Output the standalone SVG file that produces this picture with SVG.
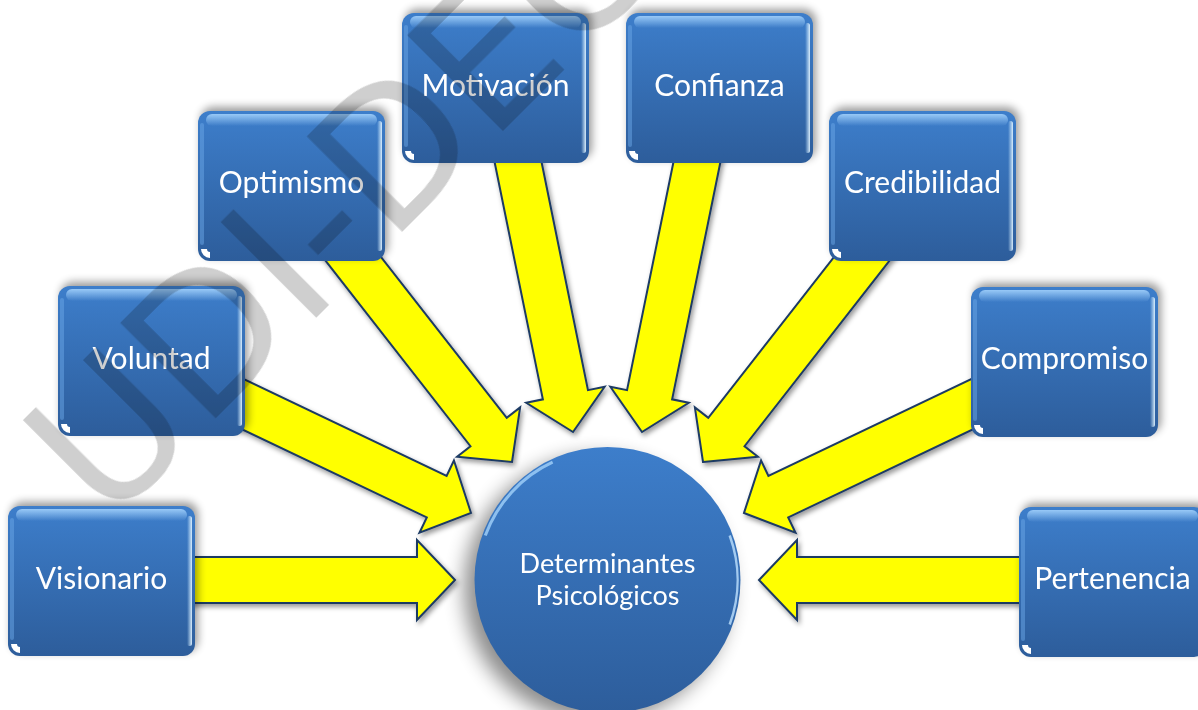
<svg xmlns="http://www.w3.org/2000/svg" xmlns:xlink="http://www.w3.org/1999/xlink" width="1198" height="710" viewBox="0 0 1198 710">
<style>
.lbl{font-family:Lato,"Open Sans","Liberation Sans",sans-serif;font-size:30px;fill:#ffffff;text-anchor:middle}
.clbl{font-family:Lato,"Open Sans","Liberation Sans",sans-serif;font-size:27px;fill:#ffffff;text-anchor:middle}
.arrow{fill:#ffff00;stroke:#1d3a64;stroke-width:2;stroke-linejoin:miter}
.wm{font-family:"DejaVu Sans",sans-serif;font-size:185px;fill:#000;fill-opacity:0.19}
</style>
<defs>
<linearGradient id="blue" x1="0" y1="0" x2="0" y2="1">
<stop offset="0" stop-color="#3d7ecb"/>
<stop offset="1" stop-color="#2d5d9b"/>
</linearGradient>
<linearGradient id="gloss" x1="0" y1="0" x2="0" y2="1">
<stop offset="0" stop-color="#a8d6ff" stop-opacity="0.85"/>
<stop offset="1" stop-color="#a8d6ff" stop-opacity="0"/>
</linearGradient>
<linearGradient id="side" x1="0" y1="0" x2="1" y2="0">
<stop offset="0" stop-color="#cdeaff" stop-opacity="0"/>
<stop offset="1" stop-color="#e2f4ff" stop-opacity="0.95"/>
</linearGradient>
<filter id="bshadow" x="-20%" y="-20%" width="140%" height="140%">
<feGaussianBlur stdDeviation="4"/>
</filter>
<filter id="ashadow" x="-10%" y="-10%" width="120%" height="120%">
<feDropShadow dx="2" dy="3" stdDeviation="2.5" flood-color="#000" flood-opacity="0.4"/>
</filter>
<filter id="cshadow" x="-30%" y="-30%" width="160%" height="160%">
<feGaussianBlur stdDeviation="10"/>
</filter>
<g id="box">
<rect x="3" y="-4" width="187" height="150" rx="12" fill="#000" opacity="0.4" filter="url(#bshadow)"/>
<rect width="187" height="150" rx="12" fill="url(#blue)"/>
<rect x="8" y="3" width="171" height="12" rx="6" fill="url(#gloss)"/>
<rect x="179" y="10" width="5" height="130" rx="2.5" fill="url(#side)"/>
<rect x="2" y="12" width="4" height="122" rx="2" fill="#6aa6e6" opacity="0.5"/>
<path d="M3,138 A9,9 0 0 0 12,147 L12,141 A3,3 0 0 1 9,138 Z" fill="#ffffff"/>
</g>
<path id="arr" d="M0,0 L-38,-40 L-38,-23 L-290,-23 L-290,23 L-38,23 L-38,40 Z"/>
</defs>
<rect width="1198" height="710" fill="#ffffff"/>
<g id="connectors" filter="url(#ashadow)">
<use xlink:href="#arr" class="arrow" transform="translate(455,580)"/>
<use xlink:href="#arr" class="arrow" transform="translate(759,580) rotate(180)"/>
<use xlink:href="#arr" class="arrow" transform="translate(471,513) rotate(25.5)"/>
<use xlink:href="#arr" class="arrow" transform="translate(744,513) rotate(154.5)"/>
<use xlink:href="#arr" class="arrow" transform="translate(512,462) rotate(52)"/>
<use xlink:href="#arr" class="arrow" transform="translate(703,462) rotate(128)"/>
<use xlink:href="#arr" class="arrow" transform="translate(573,432) rotate(78.5)"/>
<use xlink:href="#arr" class="arrow" transform="translate(642,432) rotate(101.5)"/>
</g>
<g id="center">
<circle cx="597" cy="589" r="133" fill="#000" opacity="0.45" filter="url(#cshadow)"/>
<circle cx="607.5" cy="580" r="133" fill="url(#blue)"/>
<path d="M485.3,535.5 A130,130 0 0 1 552.6,462.2" fill="none" stroke="#9ccdf7" stroke-width="3" opacity="0.85"/>
<path d="M729.7,535.5 A130,130 0 0 1 729.7,624.5" fill="none" stroke="#bfe2ff" stroke-width="2.5" opacity="0.8"/>
<text class="clbl" x="607.5" y="573">Determinantes</text>
<text class="clbl" x="607.5" y="605">Psicológicos</text>
</g>
<g id="n-visionario"><use xlink:href="#box" x="8" y="506"/><text class="lbl" x="101.5" y="589">Visionario</text></g>
<g id="n-voluntad"><use xlink:href="#box" x="58" y="286"/><text class="lbl" x="151.5" y="369">Voluntad</text></g>
<g id="n-optimismo"><use xlink:href="#box" x="198" y="111"/><text class="lbl" x="291.5" y="193">Optimismo</text></g>
<g id="n-motivacion"><use xlink:href="#box" x="402" y="13"/><text class="lbl" x="495.5" y="96">Motivación</text></g>
<g id="n-confianza"><use xlink:href="#box" x="626" y="13"/><text class="lbl" x="719.5" y="96">Confianza</text></g>
<g id="n-credibilidad"><use xlink:href="#box" x="829" y="111"/><text class="lbl" x="922.5" y="193">Credibilidad</text></g>
<g id="n-compromiso"><use xlink:href="#box" x="971" y="287"/><text class="lbl" x="1064.5" y="369">Compromiso</text></g>
<g id="n-pertenencia"><use xlink:href="#box" x="1019" y="507"/><text class="lbl" x="1112.5" y="589">Pertenencia</text></g>
<text class="wm" transform="translate(107,527) rotate(-45)">UDI-DEGT-UNAN-MANAGUA</text>
</svg>
